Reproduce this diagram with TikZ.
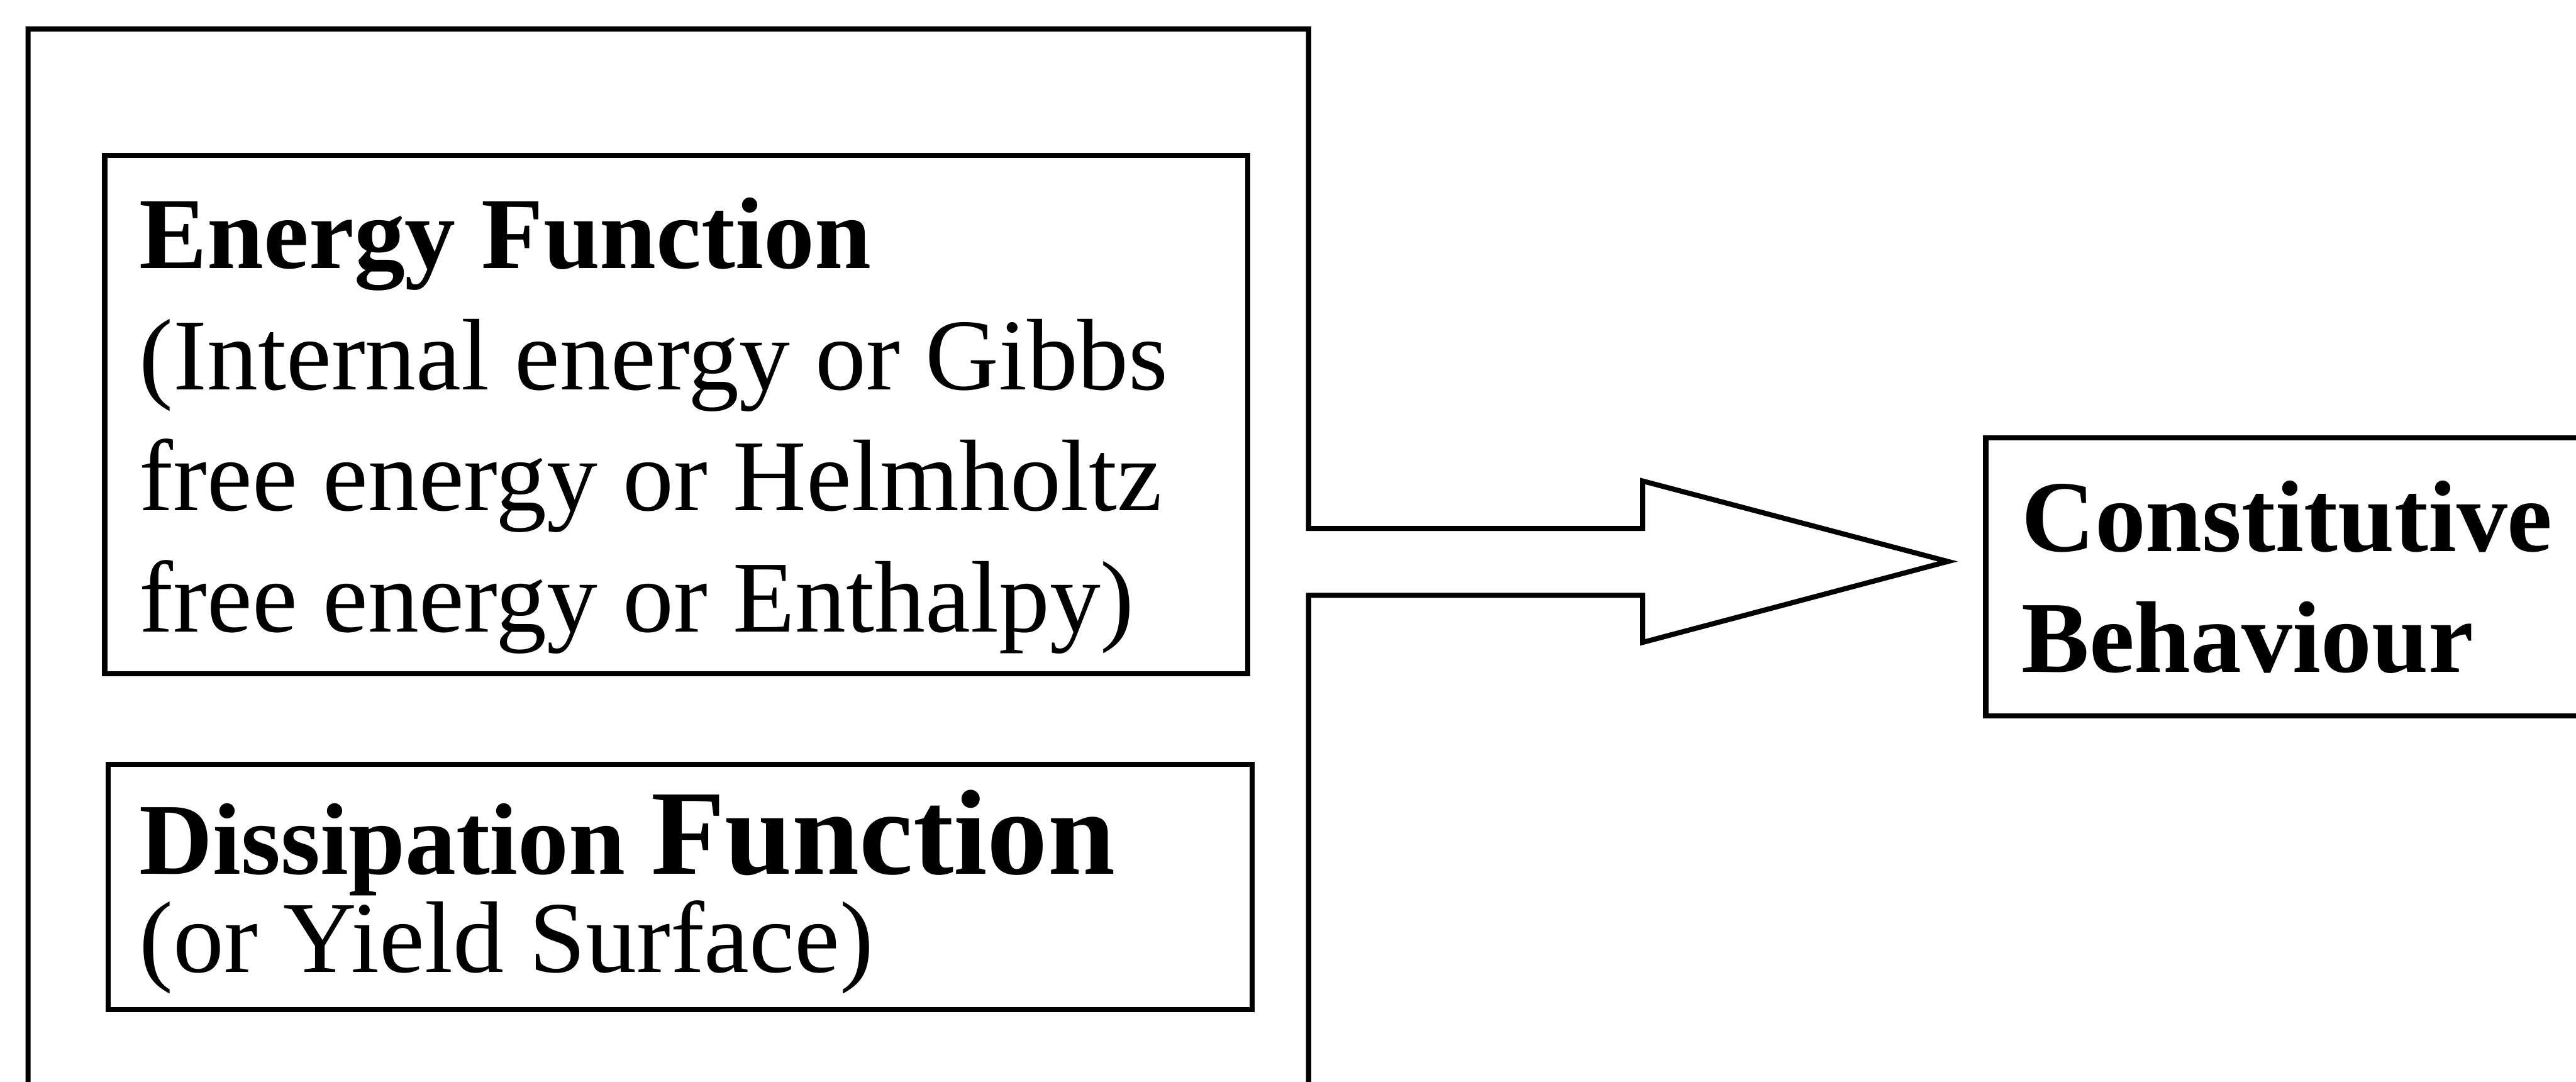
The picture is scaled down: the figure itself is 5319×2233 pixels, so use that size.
\documentclass[tikz,border=0pt]{standalone}
\usepackage{fontspec}
\setmainfont{Liberation Serif}
\tikzset{
  box/.style={draw, line width=1.05pt, inner sep=0pt},
  outline/.style={draw, line width=1.05pt, line join=miter},
  txt/.style={anchor=base west, inner sep=0pt, font=\fontsize{21}{25}\selectfont}
}
\begin{document}
\begin{tikzpicture}[x=0.1pt,y=-0.1pt]
\useasboundingbox (0,0) rectangle (5319,2233);
\clip (0,0) rectangle (5319,2233);
% outer frame with arrow
\coordinate (fbl) at (58,2260);
\coordinate (ftl) at (58,60);
\coordinate (ftr) at (2702,60);
\coordinate (sut) at (2702,1091);
\coordinate (nut) at (3392,1091);
\coordinate (hut) at (3392,993);
\coordinate (tip) at (4022,1159);
\coordinate (hlb) at (3392,1326);
\coordinate (nlb) at (3392,1229);
\coordinate (slb) at (2702,1229);
\coordinate (fbr) at (2702,2260);
\draw[outline] (fbl) -- (ftl) -- (ftr) -- (sut) -- (nut) -- (hut) -- (tip) -- (hlb) -- (nlb) -- (slb) -- (fbr);
% boxes
\node[box, anchor=north west, minimum width=236pt, minimum height=106.9pt] (energy) at (211,316) {};
\node[box, anchor=north west, minimum width=236.2pt, minimum height=50.6pt] (dissip) at (218,1573) {};
\node[box, anchor=north west, minimum width=150pt, minimum height=57.4pt] (const) at (4095,898) {};
% texts
\node[txt] (etxt) at (286,554) {\begin{tabular}[t]{@{}l@{}}\textbf{Energy Function}\\ (Internal energy or Gibbs\\ free energy or Helmholtz\\ free energy or Enthalpy)\end{tabular}};
\node[txt] (dtxt) at (286,1804) {\begin{tabular}[t]{@{}l@{}}\textbf{Dissipation {\fontsize{25}{25}\selectfont Function}}\\[-4.7pt] (or Yield Surface)\end{tabular}};
\node[txt] (ctxt) at (4172,1138) {\begin{tabular}[t]{@{}l@{}}\textbf{Constitutive}\\ \textbf{Behaviour}\end{tabular}};
\end{tikzpicture}
\end{document}
